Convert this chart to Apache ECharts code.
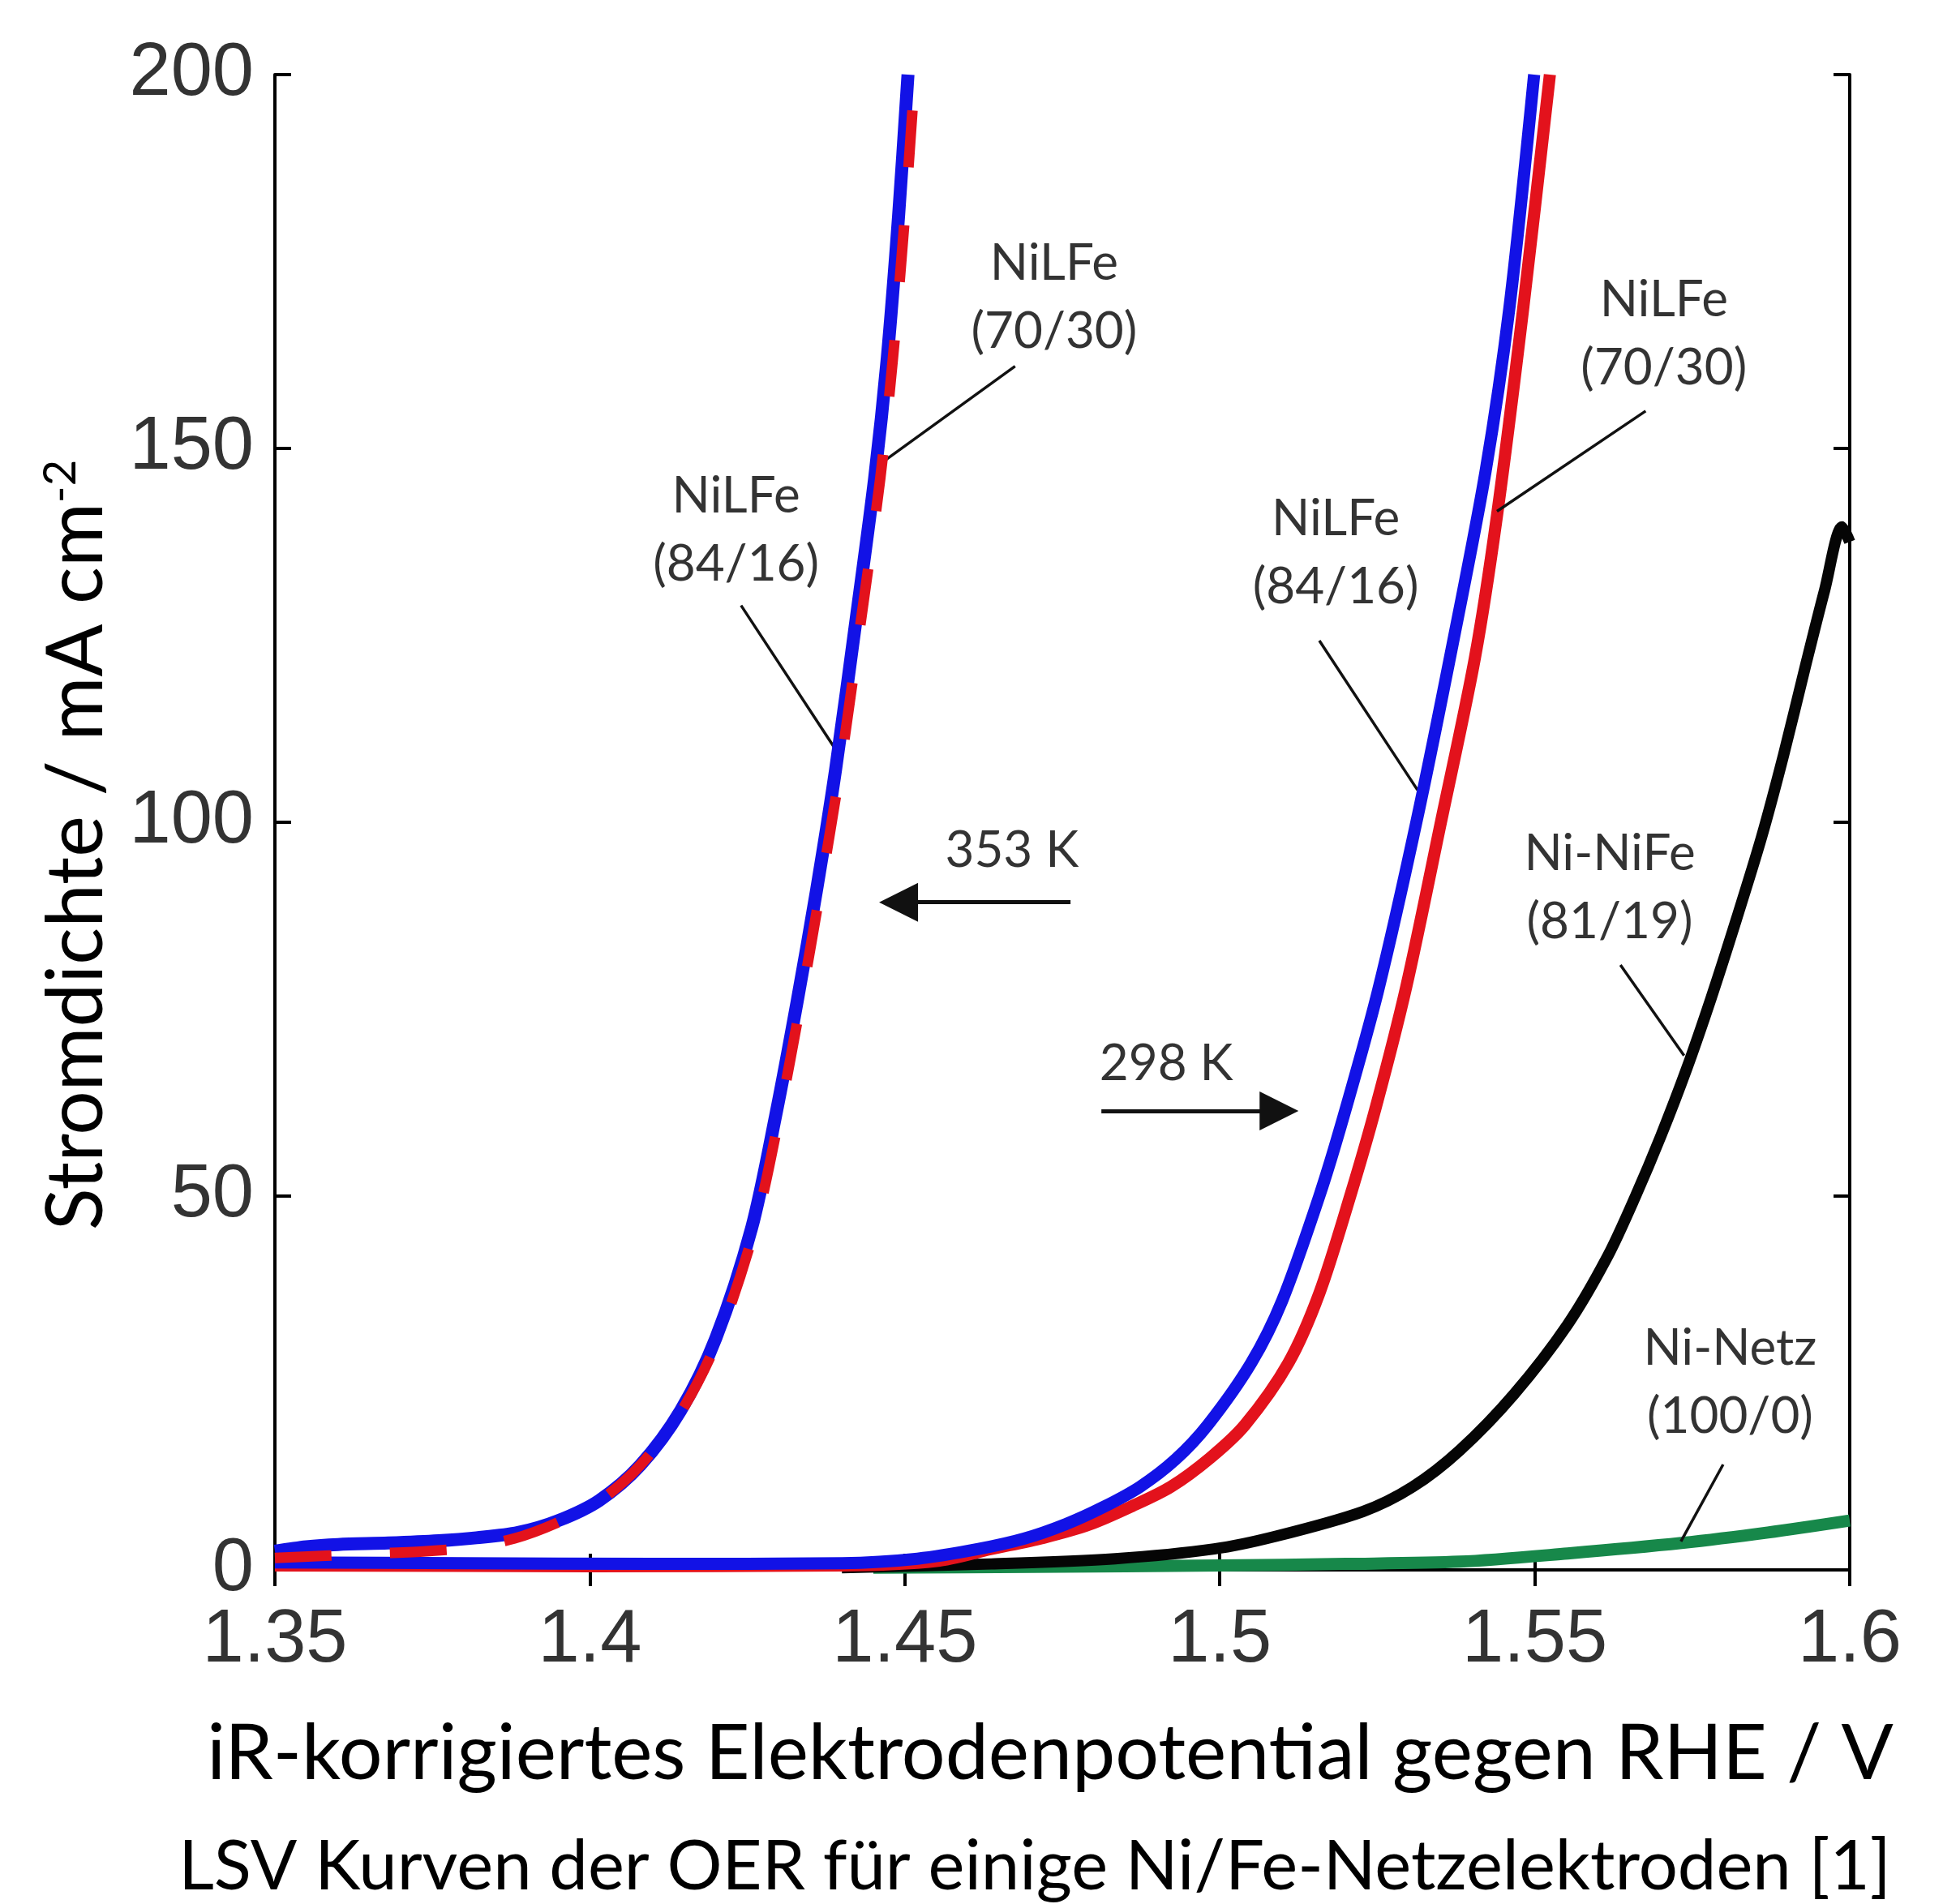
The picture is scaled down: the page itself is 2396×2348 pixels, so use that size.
<!DOCTYPE html>
<html><head><meta charset="utf-8">
<script src="https://cdn.jsdelivr.net/npm/echarts@6/dist/echarts.min.js"></script>
<style>html,body{margin:0;padding:0;background:#fff}#c{width:2396px;height:2348px}</style>
</head><body><div id="c"></div>
<script>
// ---- data (x: potential V vs RHE, y: current density mA cm-2) ----
const blue353 = [[1.350,2.5],[1.355,3.1],[1.360,3.4],[1.368,3.6],[1.376,3.9],[1.382,4.3],[1.3886,5.0],[1.395,6.6],[1.4015,9.3],[1.408,14.0],[1.4144,21.3],[1.420,31],[1.4257,45.8],[1.4295,60.8],[1.4329,76],[1.4360,91],[1.4390,107],[1.4424,128],[1.4452,146],[1.4472,162],[1.4490,181],[1.4505,200]];
const red353 = [[1.350,1.6],[1.358,1.9],[1.366,2.2],[1.374,2.5],[1.381,3.0],[1.388,4.2],[1.3945,6.2],[1.4015,9.2],[1.408,14.0],[1.4146,21.3],[1.4204,31],[1.4262,45.8],[1.4301,60.8],[1.4335,76],[1.4366,91],[1.4397,107],[1.4432,128],[1.4461,146],[1.4481,162],[1.4500,181],[1.4516,200]];
const blue298 = [[1.350,1.0],[1.380,0.9],[1.410,0.8],[1.440,0.9],[1.452,1.5],[1.4617,2.8],[1.4690,4.2],[1.4755,6.1],[1.4815,8.4],[1.4873,11.1],[1.4930,14.8],[1.4981,19.4],[1.5050,27.7],[1.5099,36],[1.5158,50],[1.5197,60.8],[1.5251,77.4],[1.5312,100],[1.5370,124],[1.5422,147],[1.5460,169],[1.5499,200]];
const red298 = [[1.350,0.6],[1.400,0.5],[1.440,0.6],[1.455,1.2],[1.4637,2.8],[1.4720,4.3],[1.4794,6.1],[1.4860,8.5],[1.4922,11.1],[1.4985,15],[1.5040,19.4],[1.5109,27.7],[1.5158,37],[1.5207,50],[1.5248,62],[1.5296,78],[1.5351,100],[1.5405,122],[1.5440,141],[1.5482,169],[1.5524,200]];
const niNiFe = [[1.440,0.3],[1.4637,0.8],[1.4834,1.5],[1.4991,2.8],[1.5089,4.5],[1.5227,7.8],[1.5306,11.1],[1.5381,16.0],[1.5467,23.5],[1.5552,32.8],[1.5616,42],[1.5660,50],[1.5700,58],[1.5741,67],[1.5780,76.5],[1.5820,87],[1.5860,98],[1.5895,109],[1.5930,121],[1.5960,131],[1.5988,139.5],[1.6000,137.5]];
const niNetz = [[1.445,0.3],[1.470,0.4],[1.500,0.6],[1.520,0.8],[1.5381,1.1],[1.5552,2.2],[1.5733,3.6],[1.587,5.0],[1.600,6.6]];

const xTickValues = [1.35, 1.4, 1.45, 1.5, 1.55, 1.6];
const yTickValues = [0, 50, 100, 150, 200];

const annoText = ['NiLFe\n(70/30)','NiLFe\n(84/16)','NiLFe\n(70/30)','NiLFe\n(84/16)','353 K','298 K','Ni-NiFe\n(81/19)','Ni-Netz\n(100/0)'];
const annoPos = [[1.4737,170.2],[1.4232,139],[1.5705,165.3],[1.5184,136],[1.4670,96.2],[1.4915,67.7],[1.5619,91.2],[1.5810,25.1]];
const leaders = [
  [[1.4675,161],[1.4462,148]],
  [[1.4240,129],[1.4388,110]],
  [[1.5676,155],[1.5440,141.6]],
  [[1.5158,124.3],[1.5314,104.3]],
  [[1.5636,80.9],[1.5737,68.8]],
  [[1.5799,14.1],[1.5732,3.8]]
];
// arrow shafts (start -> end where the arrow head is centred)
const arrows = [
  [[1.4763,89.3],[1.4490,89.3]],
  [[1.4812,61.4],[1.5094,61.4]]
];

const xTitle = 'iR-korrigiertes Elektrodenpotential gegen RHE / V';
const yTitle = 'Stromdichte / mA cm';
const caption = 'LSV Kurven der OER für einige Ni/Fe-Netzelektroden [1]';

// ---- chart ----
const BLUE = '#1212e6', RED = '#e3121c', BLACK = '#050505', GREEN = '#17884a';
const tickFont = {fontFamily:'Liberation Sans', fontSize:92, color:'#333'};
const axisCommon = {
  type:'value', splitLine:{show:false},
  axisLine:{show:true, lineStyle:{color:'#000', width:4}},
  axisTick:{show:true, inside:true, length:20, lineStyle:{color:'#000', width:4}}
};
const fmt = v => String(+(+v).toFixed(2));

const chart = echarts.init(document.getElementById('c'), null, {renderer:'canvas'});
function line(data, color, width, z, type) {
  return {type:'line', data, showSymbol:false, symbol:'none', smooth:0.3, animation:false, z,
    lineStyle:{color, width, type: type || 'solid', cap:'butt', join:'round'}, clip:true};
}
chart.setOption({
  animation:false,
  backgroundColor:'#fff',
  grid:{left:339, right:115, top:92, bottom:412, containLabel:false},
  xAxis:[
    Object.assign({}, axisCommon, {min:1.35, max:1.6, interval:0.05, position:'bottom',
      axisLabel:Object.assign({margin:42, formatter:fmt}, tickFont),
      name:xTitle, nameLocation:'middle', nameGap:180,
      nameTextStyle:{fontFamily:'Lato', fontSize:95, color:'#000', padding:[0,30,0,0]}}),
    Object.assign({}, axisCommon, {min:1.35, max:1.6, interval:0.05, position:'top', axisLabel:{show:false}})
  ],
  yAxis:[
    Object.assign({}, axisCommon, {min:0, max:200, interval:50, position:'left',
      axisLabel:Object.assign({margin:26, formatter:fmt}, tickFont),
      name:'{a|'+yTitle+'}{s|-2}', nameLocation:'middle', nameRotate:90, nameGap:196,
      nameTextStyle:{padding:[0,56,0,0], rich:{
        a:{fontFamily:'Lato', fontSize:96, color:'#000'},
        s:{fontFamily:'Lato', fontSize:56, color:'#000', verticalAlign:'top', padding:[0,0,30,0]}}}}),
    Object.assign({}, axisCommon, {min:0, max:200, interval:50, position:'right', axisLabel:{show:false}})
  ],
  graphic:[{type:'text', x:1276, y:2303, z:100,
    style:{text:caption, fontSize:85, fontFamily:'Lato', fill:'#000', textAlign:'center', textVerticalAlign:'middle'}}],
  series:[
    line(niNetz, GREEN, 15, 2),
    line(niNiFe, BLACK, 14, 3),
    line(red298, RED, 15, 4),
    line(blue298, BLUE, 15, 5),
    line(blue353, BLUE, 16, 6),
    line(red353, RED, 13, 7, [70, 72]),
    {type:'scatter', z:10, animation:false, silent:true, symbolSize:1,
      itemStyle:{color:'rgba(0,0,0,0)'},
      data: annoPos.map((p,i)=>({value:p, label:{show:true, formatter:annoText[i]}})),
      label:{show:true, position:'inside', fontFamily:'Lato', fontSize:62, lineHeight:84, color:'#000', align:'center', verticalAlign:'middle'},
      markLine:{silent:true, animation:false, symbol:['none','none'], label:{show:false},
        lineStyle:{color:'#111', width:3.5, type:'solid'},
        data: leaders.map(l=>[{coord:l[0]},{coord:l[1]}])}
    },
    {type:'line', z:10, animation:false, silent:true, data:[],
      markLine:{silent:true, animation:false, symbol:['none','triangle'], symbolSize:48, label:{show:false},
        lineStyle:{color:'#111', width:5, type:'solid'},
        data: arrows.map(l=>[{coord:l[0]},{coord:l[1]}])}
    }
  ]
});
</script>
</body></html>
